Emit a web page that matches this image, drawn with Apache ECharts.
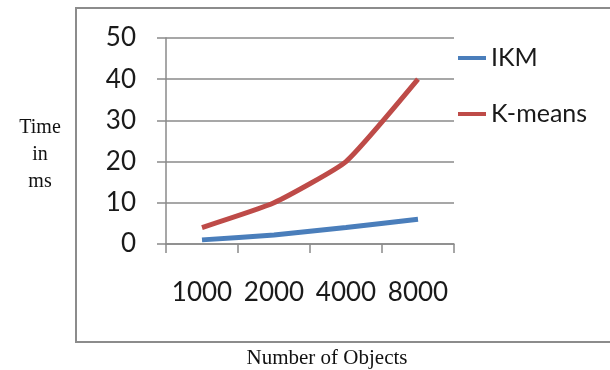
<!DOCTYPE html>
<html>
<head>
<meta charset="utf-8">
<script src="https://cdn.jsdelivr.net/npm/echarts@6/dist/echarts.min.js"></script>
<style>
html, body { margin: 0; padding: 0; background: #fff; }
#chart { width: 610px; height: 370px; }
</style>
</head>
<body>
<div id="chart"></div>
<script>
var categories = ['1000', '2000', '4000', '8000'];
var ikmData = [1, 2.2, 4, 6];
var kmeansData = [4, 10, 20, 40];
var seriesNames = ['IKM', 'K-means'];

var chart = echarts.init(document.getElementById('chart'));
var axisGray = '#8a8a8a';
var labelFont = 'Lato, "Liberation Sans", sans-serif';
var serifFont = '"Liberation Serif", "DejaVu Serif", serif';

var option = {
    animation: false,
    color: ['#4A7EBB', '#BE4B48'],
    grid: {
        left: 166,
        right: 156,
        top: 38,
        bottom: 126,
        containLabel: false
    },
    legend: {
        orient: 'vertical',
        left: 458,
        top: 43,
        padding: 0,
        itemWidth: 28,
        itemHeight: 4,
        itemGap: 26,
        icon: 'rect',
        textStyle: {
            fontFamily: labelFont,
            fontSize: 25,
            color: '#1a1a1a',
            lineHeight: 30
        },
        data: seriesNames
    },
    xAxis: {
        type: 'category',
        data: categories,
        boundaryGap: true,
        axisLine: { lineStyle: { color: axisGray, width: 1.5 } },
        axisTick: { show: true, length: 9, lineStyle: { color: axisGray, width: 1.5 } },
        axisLabel: {
            fontFamily: labelFont,
            fontSize: 26,
            color: '#1a1a1a',
            margin: 36,
            interval: 0
        }
    },
    yAxis: {
        type: 'value',
        min: 0,
        max: 50,
        interval: 10,
        axisLine: { show: true, lineStyle: { color: axisGray, width: 1.5 } },
        axisTick: { show: true, length: 9, lineStyle: { color: axisGray, width: 1.5 } },
        splitLine: { lineStyle: { color: axisGray, width: 1.5 } },
        axisLabel: {
            fontFamily: labelFont,
            fontSize: 26,
            color: '#1a1a1a',
            margin: 30
        }
    },
    series: [
        {
            name: seriesNames[0],
            type: 'line',
            data: ikmData,
            showSymbol: false,
            smooth: 0.15,
            lineStyle: { width: 5 }
        },
        {
            name: seriesNames[1],
            type: 'line',
            data: kmeansData,
            showSymbol: false,
            smooth: 0.15,
            lineStyle: { width: 5 }
        }
    ],
    graphic: [
        {
            type: 'rect',
            shape: { x: 76, y: 8, width: 600, height: 334 },
            style: { fill: 'none', stroke: '#8c8c8c', lineWidth: 2 },
            silent: true
        },
        {
            type: 'text',
            x: 40,
            y: 114,
            style: {
                text: 'Time\nin\nms',
                fontFamily: serifFont,
                fontSize: 20,
                lineHeight: 27,
                align: 'center',
                fill: '#111'
            }
        },
        {
            type: 'text',
            x: 327,
            y: 348,
            style: {
                text: 'Number of Objects',
                fontFamily: serifFont,
                fontSize: 21,
                align: 'center',
                fill: '#111'
            }
        }
    ]
};

chart.setOption(option);
</script>
</body>
</html>
